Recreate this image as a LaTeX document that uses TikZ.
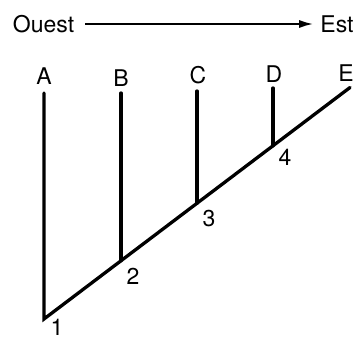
\documentclass[tikz,border=0pt]{standalone}
\usepackage{fontspec}
\setmainfont{TeX Gyre Heros}
\usetikzlibrary{arrows.meta}

\begin{document}
\begin{tikzpicture}[x=1pt,y=1pt,>={Latex[length=14pt,width=8pt]},
  lbl/.style={inner sep=0pt,font=\fontsize{23}{27}\selectfont},
  branch/.style={line width=3.3pt,line cap=round,line join=miter}]
  \useasboundingbox (0,0) rectangle (358,339);
  \node[lbl] (ouest) at (43.5,315) {Ouest};
  \node[lbl] (est) at (337,315) {Est};
  \draw[->,line width=1.9pt,shorten <=11pt,shorten >=7pt] (ouest.east) -- (est.west);
  % joints on the base line
  \coordinate (j1) at (44,20);
  \coordinate (j2) at (121,78.2);
  \coordinate (j3) at (197,135.7);
  \coordinate (j4) at (273,193.2);
  \coordinate (tip) at (350,251.5);
  % tops of the branches
  \coordinate (ta) at (44,246);
  \coordinate (tb) at (121,246);
  \coordinate (tc) at (197,248);
  \coordinate (td) at (273,251);
  \node[lbl] (a) at (44,263) {A};
  \node[lbl] (b) at (121,261) {B};
  \node[lbl] (c) at (198,264) {C};
  \node[lbl] (d) at (274,265) {D};
  \node[lbl] (e) at (346,266) {E};
  \node[lbl] (n1) at (57,12) {1};
  \node[lbl] (n2) at (133,63) {2};
  \node[lbl] (n3) at (209,120) {3};
  \node[lbl] (n4) at (285,182) {4};
  \draw[branch] (ta) -- (j1) -- (tip);
  \draw[branch] (tb) -- (j2);
  \draw[branch] (tc) -- (j3);
  \draw[branch] (td) -- (j4);
\end{tikzpicture}
\end{document}
